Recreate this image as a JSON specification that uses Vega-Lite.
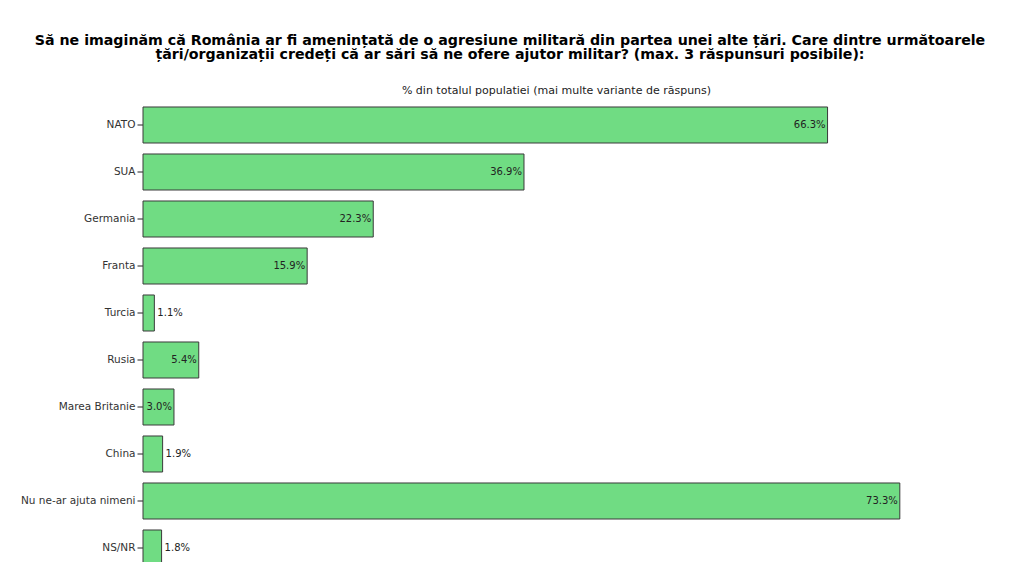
{
  "$schema": "https://vega.github.io/schema/vega-lite/v6.json",
  "autosize": "none",
  "width": 826,
  "height": 470,
  "padding": {"left": 143, "top": 101.5, "right": 51, "bottom": 0},
  "background": "white",
  "title": {
    "text": [
      "Să ne imaginăm că România ar fi amenințată de o agresiune militară din partea unei alte țări. Care dintre următoarele",
      "țări/organizații credeți că ar sări să ne ofere ajutor militar? (max. 3 răspunsuri posibile):"
    ],
    "anchor": "middle",
    "dx": -46,
    "font": "DejaVu Sans",
    "fontSize": 14.2,
    "fontWeight": "bold",
    "lineHeight": 14.3,
    "color": "black",
    "offset": 22
  },
  "data": {
    "values": [
      {"raspuns": "NATO", "share": 0.663},
      {"raspuns": "SUA", "share": 0.369},
      {"raspuns": "Germania", "share": 0.223},
      {"raspuns": "Franta", "share": 0.159},
      {"raspuns": "Turcia", "share": 0.011},
      {"raspuns": "Rusia", "share": 0.054},
      {"raspuns": "Marea Britanie", "share": 0.030},
      {"raspuns": "China", "share": 0.019},
      {"raspuns": "Nu ne-ar ajuta nimeni", "share": 0.733},
      {"raspuns": "NS/NR", "share": 0.018}
    ]
  },
  "encoding": {
    "y": {
      "field": "raspuns",
      "type": "nominal",
      "sort": null,
      "scale": {"paddingInner": 0.234, "paddingOuter": 0.117},
      "axis": {
        "title": null,
        "domain": false,
        "ticks": true,
        "tickSize": 6,
        "tickColor": "#222222",
        "labelPadding": 2,
        "labelFont": "DejaVu Sans",
        "labelFontSize": 10.5,
        "labelColor": "#333333"
      }
    },
    "x": {
      "field": "share",
      "type": "quantitative",
      "scale": {"domain": [0, 0.8], "nice": false},
      "axis": {
        "orient": "top",
        "title": "% din totalul populatiei (mai multe variante de răspuns)",
        "titleFont": "DejaVu Sans",
        "titleFontSize": 11,
        "titleFontWeight": "normal",
        "titleColor": "#222222",
        "titlePadding": 6,
        "labels": false,
        "ticks": false,
        "domain": false,
        "grid": false
      }
    }
  },
  "layer": [
    {
      "mark": {"type": "bar", "fill": "#70DC83", "stroke": "#3a3a3a", "strokeWidth": 1}
    },
    {
      "transform": [{"filter": "datum.share >= 0.03"}],
      "mark": {"type": "text", "align": "right", "dx": -2, "font": "DejaVu Sans", "fontSize": 10, "color": "#222222"},
      "encoding": {"text": {"field": "share", "type": "quantitative", "format": ".1%"}}
    },
    {
      "transform": [{"filter": "datum.share < 0.03"}],
      "mark": {"type": "text", "align": "left", "dx": 3, "font": "DejaVu Sans", "fontSize": 10, "color": "#222222"},
      "encoding": {"text": {"field": "share", "type": "quantitative", "format": ".1%"}}
    }
  ],
  "config": {"view": {"stroke": null}}
}
